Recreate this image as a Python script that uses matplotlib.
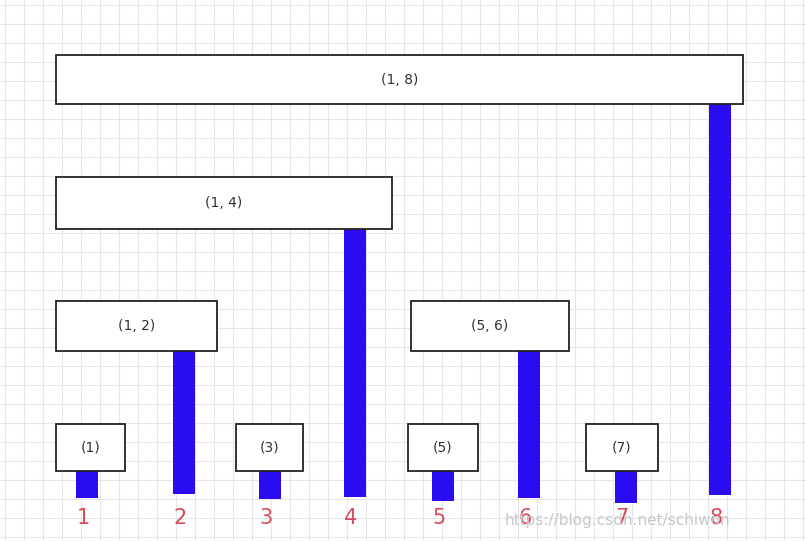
import matplotlib
matplotlib.use("Agg")
import matplotlib.pyplot as plt
from matplotlib.patches import Rectangle

# Fenwick tree diagram data (pixel-space coordinates of the reference)
indices = ["1", "2", "3", "4", "5", "6", "7", "8"]
bar_x = [87, 184, 270, 355, 443, 529, 626, 720]
bar_top = [471, 351, 471, 229, 471, 351, 471, 104]
bar_bottom = [498, 494, 499, 497, 501, 498, 503, 495]

box_labels = ["(1, 8)", "(1, 4)", "(1, 2)", "(5, 6)", "(1)", "(3)", "(5)", "(7)"]
box_x0 = [56, 56, 56, 411, 56, 236, 408, 586]
box_x1 = [743, 392, 217, 569, 125, 303, 478, 658]
box_y0 = [55, 177, 301, 301, 424, 424, 424, 424]
box_y1 = [104, 229, 351, 351, 471, 471, 471, 471]

fig = plt.figure(figsize=(8.06, 5.41), dpi=100)
ax = fig.add_axes([0, 0, 1, 1])
ax.set_xlim(0, 806)
ax.set_ylim(541, 0)
ax.axis("off")

# grid
for g in range(0, 806, 19):
    ax.axvline(g + 5, color="#e6e6ea", lw=0.8, zorder=0)
for g in range(0, 541, 19):
    ax.axhline(g + 5, color="#e6e6ea", lw=0.8, zorder=0)

heights = [b - t for b, t in zip(bar_bottom, bar_top)]
ax.bar(bar_x, heights, bottom=bar_top, width=22, color="#2a0cf0", zorder=2)

for lab, x0, x1, y0, y1 in zip(box_labels, box_x0, box_x1, box_y0, box_y1):
    ax.add_patch(Rectangle((x0, y0), x1 - x0, y1 - y0, facecolor="white",
                           edgecolor="#222222", lw=1.3, zorder=3))
    ax.text((x0 + x1) / 2, (y0 + y1) / 2, lab, ha="center", va="center",
            fontsize=10, color="#333333", zorder=4)

for lab, x in zip(indices, bar_x):
    ax.text(x - 4, 518, lab, ha="center", va="center", fontsize=15,
            color="#d64b5a", zorder=4)

ax.text(505, 520, "https://blog.csdn.net/schiwon", ha="left", va="center",
        fontsize=11, color="#c8c8c8", zorder=5)

fig.savefig("out.png", dpi=100)
